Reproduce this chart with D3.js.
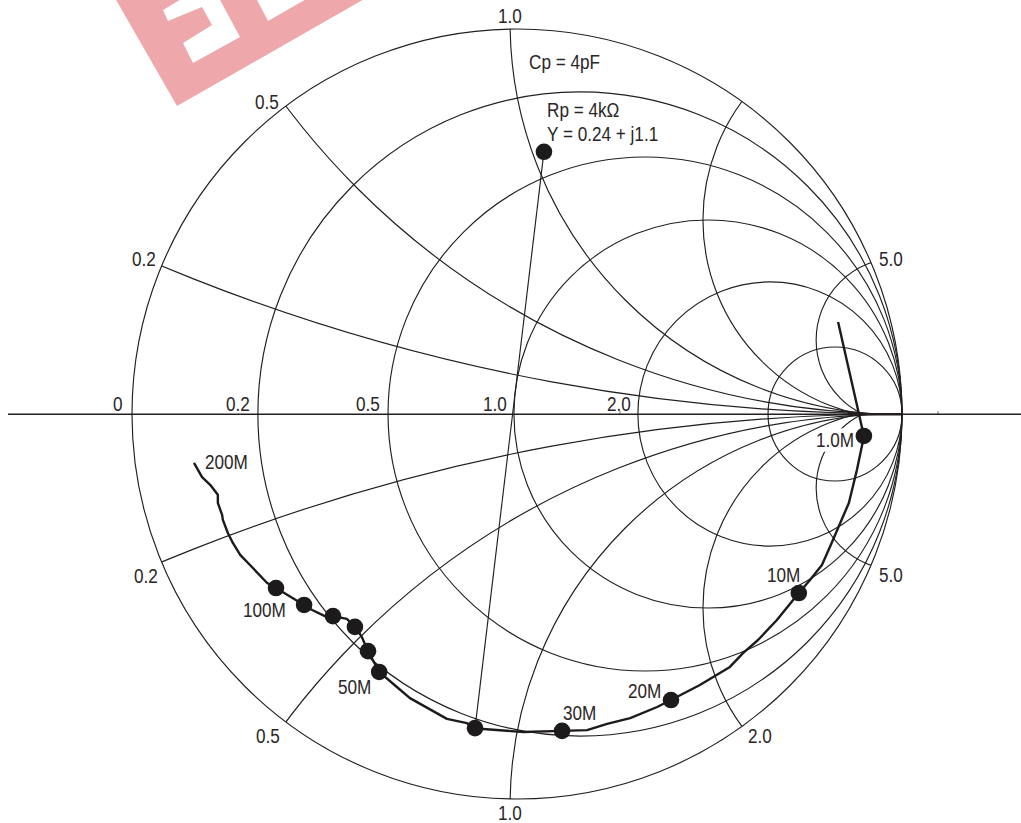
<!DOCTYPE html>
<html>
<head>
<meta charset="utf-8">
<style>
html,body{margin:0;padding:0;background:#fff;overflow:hidden}
svg{display:block}
text{font-family:"Liberation Sans",Arial,sans-serif;font-size:19.6px;fill:#2a2627}
</style>
<script src="https://cdn.jsdelivr.net/npm/d3@7/dist/d3.min.js"></script>
</head>
<body>
<script>
// ---- Data (all in reflection-coefficient coordinates, Re / Im of gamma) ----
const resistanceLeftEdge = [-1, -0.673, -0.335, -0.008, 0.314, 0.652];
const resistanceLabels = ["0", "0.2", "0.5", "1.0", "2.0"];
const reactanceLabels = ["0.2", "0.5", "1.0", "2.0", "5.0"];
const reactanceCentreRe = [1, 1, 1.003, 1, 0.99];
const reactanceCentreIm = [5, 2, 1.018, 0.504, 0.192];
const reactanceRadius = [5, 2, 1.021, 0.517, 0.213];
const traceRe = [0.834,0.886,0.901,0.899,0.883,0.862,0.834,0.813,0.792,0.761,0.732,0.675,0.626,0.587,0.553,0.475,0.400,0.364,0.294,0.234,0.182,0.117,0.016,-0.088,-0.109,-0.130,-0.182,-0.278,-0.312,-0.358,-0.387,-0.403,-0.421,-0.442,-0.478,-0.499,-0.532,-0.553,-0.626,-0.649,-0.686,-0.719,-0.738,-0.751,-0.764,-0.766,-0.777,-0.777,-0.797,-0.818,-0.839];
const traceIm = [0.239,0.010,-0.057,-0.068,-0.145,-0.231,-0.296,-0.345,-0.392,-0.431,-0.465,-0.535,-0.587,-0.621,-0.657,-0.704,-0.743,-0.761,-0.790,-0.805,-0.821,-0.823,-0.826,-0.818,-0.816,-0.803,-0.792,-0.738,-0.709,-0.670,-0.616,-0.579,-0.553,-0.532,-0.525,-0.525,-0.509,-0.496,-0.452,-0.439,-0.400,-0.366,-0.335,-0.309,-0.275,-0.262,-0.231,-0.210,-0.184,-0.164,-0.127];
const markerRe = [0.070,0.901,0.732,0.400,0.117,-0.109,-0.358,-0.387,-0.421,-0.478,-0.553,-0.626];
const markerIm = [0.681,-0.057,-0.465,-0.743,-0.823,-0.816,-0.670,-0.616,-0.553,-0.525,-0.496,-0.452];
const radialRe = [0.070,-0.109];
const radialIm = [0.681,-0.816];
const noteTexts = ["Cp = 4pF","Rp = 4k\u03a9","Y = 0.24 + j1.1"];
const frequencyTexts = ["200M","100M","50M","30M","20M","10M","1.0M"];

// ---- Layout ----
const W = 1021, H = 823, ink = "#231f20";
const x = d3.scaleLinear().domain([-1,1]).range([132,902]);
const y = d3.scaleLinear().domain([-1,1]).range([799,29]);
const unit = x(1)-x(0);
const axisY = y(0)+0.3;

const svg = d3.select("body").append("svg").attr("width",W).attr("height",H);
const defs = svg.append("defs");
defs.append("filter").attr("id","soft").append("feGaussianBlur").attr("stdDeviation",0.6);

// watermark
const wm = svg.append("g").attr("filter","url(#soft)");
wm.append("polygon").attr("points","115,-2 177,106 366,-2").attr("fill","#eea7ab");
wm.append("polygon").attr("points","163,10 183,-2 219,-2 240,37 193,63 183,43 212,25 202,7 168,21").attr("fill","#fff");
wm.append("polygon").attr("points","256,-2 268,21 308,-2").attr("fill","#fff");

// half-disc clips for reactance arcs
const half = (id, a0, a1) => {
  const p = d3.path();
  p.moveTo(x(-1), y(0));
  p.arc(x(0), y(0), unit, a0, a1, a0 > a1);
  p.closePath();
  defs.append("clipPath").attr("id",id).append("path").attr("d",p.toString());
};
half("upperHalf", Math.PI, 2*Math.PI);
half("lowerHalf", Math.PI, 0);

const grid = svg.append("g").attr("fill","none").attr("stroke",ink).attr("stroke-width",1.15);

// horizontal axis
svg.append("line").attr("x1",8).attr("x2",W).attr("y1",axisY).attr("y2",axisY)
  .attr("stroke",ink).attr("stroke-width",1.5);
svg.append("line").attr("x1",x(0.86)).attr("x2",x(1)).attr("y1",axisY).attr("y2",axisY)
  .attr("stroke",ink).attr("stroke-width",2.6);

// constant-resistance circles
grid.selectAll("circle.r").data(resistanceLeftEdge).join("circle").attr("class","r")
  .attr("cx",d=>x((d+1)/2)).attr("cy",y(0)).attr("r",d=>(x(1)-x(d))/2);

// constant-reactance arcs, upper and lower
const arcs = d3.range(reactanceRadius.length);
grid.append("g").attr("clip-path","url(#upperHalf)").selectAll("circle").data(arcs).join("circle")
  .attr("cx",i=>x(reactanceCentreRe[i])).attr("cy",i=>y(reactanceCentreIm[i])).attr("r",i=>reactanceRadius[i]*unit);
grid.append("g").attr("clip-path","url(#lowerHalf)").selectAll("circle").data(arcs).join("circle")
  .attr("cx",i=>x(reactanceCentreRe[i])).attr("cy",i=>y(-reactanceCentreIm[i])).attr("r",i=>reactanceRadius[i]*unit);

// thin radial line through the Y point
svg.append("line").attr("x1",x(radialRe[0])).attr("y1",y(radialIm[0])).attr("x2",x(radialRe[1])).attr("y2",y(radialIm[1]))
  .attr("stroke",ink).attr("stroke-width",1.15);

// small ticks on the axis
svg.selectAll("line.tick").data([620,938]).join("line").attr("class","tick")
  .attr("x1",d=>d).attr("x2",d=>d).attr("y1",axisY-3).attr("y2",axisY).attr("stroke",ink).attr("stroke-width",0.7);

// text placement (anchor x, baseline y)
const resistancePlace = [[113,411],[226,411],[356,411],[483,411],[607,411]];
const upperPlace = [[132,266],[255,109],[498,23],[0,0],[879,266]];
const lowerPlace = [[134,583],[256,743],[498,820],[748,743],[879,582]];
const notePlace = [[529,69],[547,117],[547,141]];
const freqPlace = [[205,469],[243,617],[338,694],[563,720],[628,698],[767,582],[816,447]];
const condense = 0.875;

const put = (txt, p) => svg.append("text")
  .attr("transform",`translate(${p[0]},${p[1]}) scale(${condense},1)`).text(txt);

// white backing behind the 1.0M label (breaks the grid lines)
put(frequencyTexts[6], freqPlace[6])
  .style("fill","#fff").style("stroke","#fff").style("stroke-width",9).style("stroke-linejoin","round");

// measured trace
const idx = d3.range(traceRe.length);
svg.append("path")
  .attr("d",d3.line().x(i=>x(traceRe[i])).y(i=>y(traceIm[i]))(idx))
  .attr("fill","none").attr("stroke","#1d1a1b").attr("stroke-width",2.4).attr("stroke-linejoin","round").attr("stroke-linecap","butt");

// markers
svg.selectAll("circle.m").data(d3.range(markerRe.length)).join("circle").attr("class","m")
  .attr("cx",i=>x(markerRe[i])).attr("cy",i=>y(markerIm[i])).attr("r",8.3).attr("fill","#1d1a1b");

// labels
resistanceLabels.forEach((t,i)=>put(t,resistancePlace[i]));
reactanceLabels.forEach((t,i)=>{ if(i!==3) put(t,upperPlace[i]); put(t,lowerPlace[i]); });
noteTexts.forEach((t,i)=>put(t,notePlace[i]));
frequencyTexts.forEach((t,i)=>put(t,freqPlace[i]));
</script>
</body>
</html>
